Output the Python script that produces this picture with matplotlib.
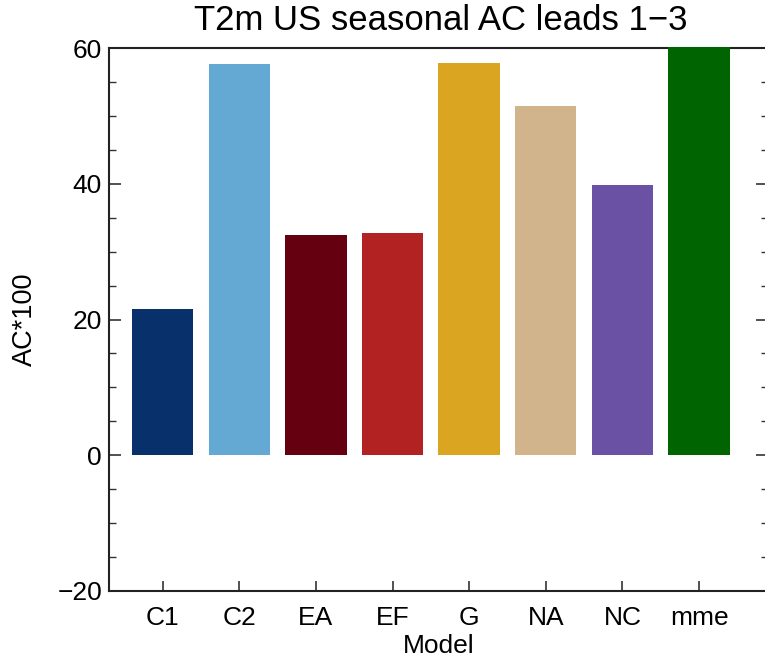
import matplotlib
matplotlib.use("Agg")
import matplotlib.pyplot as plt
from matplotlib.ticker import MultipleLocator

models = ["C1", "C2", "EA", "EF", "G", "NA", "NC", "mme"]
ac_values = [21.6, 57.6, 32.4, 32.7, 57.8, 51.5, 39.8, 60.1]
bar_colors = ["#08306b", "#64a8d4", "#650010", "#b22222",
              "#daa520", "#d2b48c", "#6a51a3", "#006400"]
yticks = [-20, 0, 20, 40, 60]

plt.rcParams['font.family'] = ['Liberation Sans', 'DejaVu Sans']

W, H = 765, 659
fig = plt.figure(figsize=(W / 100, H / 100), dpi=100)
left, right, top, bottom = 109, 768, 48, 591
ax = fig.add_axes([left / W, 1 - bottom / H, (right - left) / W, (bottom - top) / H])

xpos = list(range(1, len(models) + 1))
bars = ax.bar(xpos, ac_values, width=0.8, color=bar_colors, zorder=3)
for b in bars:
    b.set_clip_on(False)

ax.set_xlim(0.3, 8.9)
ax.set_ylim(-20, 60)
ax.set_xticks(xpos)
ax.set_xticklabels(models)
ax.set_yticks(yticks)
ax.set_yticklabels([str(v).replace('-', '\u2212') for v in yticks])
ax.yaxis.set_minor_locator(MultipleLocator(5))

ax.tick_params(axis='y', which='major', direction='in', length=8.6, width=1.2,
               left=True, right=True, labelsize=19, pad=5, color='#333333')
ax.tick_params(axis='y', which='minor', direction='in', length=4.8, width=1.0,
               left=True, right=True, color='#333333')
ax.tick_params(axis='x', which='major', direction='in', length=7, width=1.2,
               bottom=True, top=False, labelsize=19, pad=11, color='#333333')
ax.tick_params(axis='x', which='minor', bottom=False, top=False)

for s in ax.spines.values():
    s.set_linewidth(1.5)
    s.set_color('#222222')

ax.set_xlabel("Model", fontsize=19, labelpad=3)
ax.set_ylabel("AC*100", fontsize=19.5, labelpad=14)

fig.text(((left + right) / 2 + 2) / W, 1 - 21 / H, "T2m US seasonal AC leads 1\u22123",
         ha='center', va='center', fontsize=25)

fig.savefig("out.png", dpi=100)
